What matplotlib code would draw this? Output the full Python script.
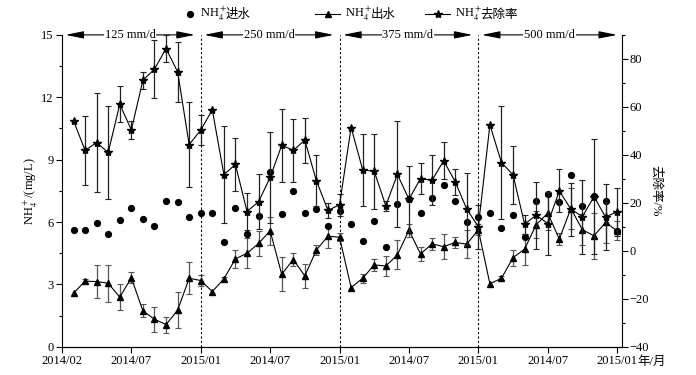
import numpy as np
import matplotlib
matplotlib.use('Agg')
import matplotlib.pyplot as plt
from matplotlib.lines import Line2D
from matplotlib.ticker import MultipleLocator

plt.rcParams['font.family'] = ['Liberation Serif', 'Noto Sans CJK SC']
plt.rcParams['mathtext.fontset'] = 'stix'
plt.rcParams['font.size'] = 9
plt.rcParams['axes.unicode_minus'] = True

# NH4+ data, 4 loading periods x 12 months
rates = ['125 mm/d', '250 mm/d', '375 mm/d', '500 mm/d']
tick_labels = ['2014/02', '2014/07', '2015/01', '2014/07', '2015/01',
               '2014/07', '2015/01', '2014/07', '2015/01']
series_names = ['进水', '出水', '去除率']

influent = [5.61, 5.64, 5.96, 5.42, 6.11, 6.70, 6.14, 5.79, 7.00, 6.97, 6.25, 6.44,
            6.44, 5.02, 6.67, 5.42, 6.31, 8.40, 6.41, 7.50, 6.46, 6.62, 5.83, 6.52,
            5.91, 5.11, 6.06, 4.78, 6.86, 7.12, 6.44, 7.15, 7.79, 7.02, 5.98, 6.23,
            6.43, 5.71, 6.35, 5.30, 7.03, 7.36, 6.96, 8.25, 6.75, 7.23, 7.03, 5.56]

effluent = [2.58, 3.16, 3.14, 3.06, 2.39, 3.32, 1.73, 1.33, 1.07, 1.76, 3.30, 3.19,
            2.66, 3.27, 4.23, 4.50, 4.97, 5.58, 3.49, 4.20, 3.41, 4.66, 5.32, 5.27,
            2.85, 3.30, 3.94, 3.89, 4.42, 5.61, 4.47, 4.95, 4.82, 5.02, 4.94, 5.63,
            3.03, 3.30, 4.29, 4.70, 5.87, 6.43, 5.18, 6.65, 5.63, 5.34, 5.98, 5.58]
effluent_err = [0, 0.1, 0.8, 0.9, 0.64, 0.27, 0.31, 0.6, 0.38, 0.86, 0.78, 0.26,
                0, 0.1, 0.43, 0.73, 0.59, 0.67, 0.82, 0.30, 0.56, 0.23, 0.56, 0.2,
                0, 0.22, 0.27, 0.48, 0.70, 0.31, 0.32, 0.30, 0.6, 0.25, 0.67, 0.26,
                0, 0.1, 0.38, 0.75, 0.65, 0.8, 0.28, 0.98, 0.75, 1.1, 1.0, 0.45]

removal = [54.2, 41.9, 45.1, 41.0, 61.1, 50.4, 71.1, 75.7, 84.3, 74.6, 44.3, 50.3,
           58.8, 31.8, 36.0, 16.4, 20.5, 30.6, 44.0, 41.9, 46.1, 29.2, 16.9, 19.2,
           51.4, 33.8, 33.1, 18.8, 31.9, 21.5, 30.1, 29.4, 37.6, 28.8, 17.4, 10.1,
           52.5, 36.8, 31.7, 11.1, 14.9, 11.4, 25.0, 17.4, 14.3, 22.6, 14.1, 16.3]
removal_err = [0, 14.4, 20.7, 19.5, 7.5, 3.8, 3.5, 12.2, 5.6, 12.4, 17.6, 6.2,
               0, 20.2, 10.9, 7.8, 11.4, 18.9, 15.1, 13.1, 9.4, 10.6, 3.0, 4.7,
               0, 14.9, 15.8, 2.1, 22.1, 13.8, 6.5, 10.4, 7.8, 5.4, 15.0, 9.2,
               0, 23.5, 12.0, 4.0, 14.0, 13.0, 9.0, 11.0, 15.4, 24.0, 13.8, 10.0]

x = np.arange(1, len(influent) + 1)
eff = np.array(effluent)
eff_e = np.array(effluent_err)
rem = np.array(removal)
rem_e = np.array(removal_err)

W, H = 696, 375
fig = plt.figure(figsize=(W / 100, H / 100), dpi=100)
ax = fig.add_axes([0.089, 0.075, 0.804, 0.832])
ax2 = ax.twinx()

# error bars first, markers on top
m = eff_e > 0
ax.errorbar(x[m], eff[m], yerr=eff_e[m], fmt='none', ecolor='#555555',
            elinewidth=0.9, capsize=2, capthick=0.8)
m = rem_e > 0
ax2.errorbar(x[m], rem[m], yerr=rem_e[m], fmt='none', ecolor='#222222',
             elinewidth=0.9, capsize=2, capthick=0.8)

ax.plot(x, influent, 'o', color='k', ms=4.2, ls='none')
ax.plot(x, effluent, '-^', color='k', ms=4.8, lw=0.8)
ax2.plot(x, removal, '-*', color='k', ms=6, lw=0.8)

for xv in [12, 24, 36]:
    ax.axvline(xv, color='k', lw=0.8, ls=(0, (2, 2)))

ax.set_xlim(0, 48.38)
ax.set_ylim(0, 15)
ax2.set_ylim(-40, 90)
ax.set_xticks(np.arange(0, 49, 6))
ax.set_xticklabels(tick_labels)
ax.yaxis.set_major_locator(MultipleLocator(3))
ax.yaxis.set_minor_locator(MultipleLocator(1.5))
ax2.yaxis.set_major_locator(MultipleLocator(20))
ax2.yaxis.set_minor_locator(MultipleLocator(10))

for a in (ax, ax2):
    a.spines['top'].set_visible(False)
    a.tick_params(which='major', direction='out', length=4, width=0.8, pad=2)
    a.tick_params(which='minor', direction='out', length=2.5, width=0.8)
ax.spines['right'].set_visible(False)
ax2.spines['left'].set_visible(False)

ax.set_ylabel('NH$_4^+$/(mg/L)', labelpad=1)
ax2.set_ylabel('去除率/%', rotation=270, labelpad=9)
fig.text(0.916, 0.036, '年/月', ha='left', va='center')

# loading-rate arrows along the top
for k, lab in enumerate(rates):
    x0 = 12 * k + 0.3
    x1 = 12 * k + 11.5 if k < 3 else 48
    ax.annotate('', xy=(x0, 15), xytext=(x1, 15),
                arrowprops=dict(arrowstyle='<|-|>,head_length=1.1,head_width=0.22',
                                color='k', lw=0.8, shrinkA=0, shrinkB=0,
                                mutation_scale=10))
    ax.text((x0 + x1) / 2, 15, lab, ha='center', va='center',
            bbox=dict(facecolor='white', edgecolor='none', pad=0.5))

# legend drawn by hand (mathtext can't fall back to CJK glyphs)
ly = 1 - 17.5 / H
entries = [(190, None, 'o', 4.2), (315, 340, '^', 4.8), (425, 450, '*', 6)]
fig.canvas.draw()
for (hx0, hx1, mk, ms), name in zip(entries, series_names):
    if hx1 is None:
        fig.add_artist(Line2D([hx0 / W], [ly + 3.5 / H], marker=mk, ms=ms, color='k',
                              ls='none', transform=fig.transFigure))
        tx = hx0 + 10
    else:
        fig.add_artist(Line2D([hx0 / W, hx1 / W], [ly + 3.5 / H] * 2, marker=None,
                              color='k', lw=0.8, transform=fig.transFigure))
        fig.add_artist(Line2D([(hx0 + hx1) / 2 / W], [ly + 3.5 / H], marker=mk, ms=ms,
                              color='k', ls='none', transform=fig.transFigure))
        tx = hx1 + 5
    t = fig.text(tx / W, ly, 'NH$_4^+$', ha='left', va='baseline')
    bb = t.get_window_extent(renderer=fig.canvas.get_renderer())
    fig.text((bb.x1 - 1.5) / W, ly, name, ha='left', va='baseline')

fig.savefig('out.png', dpi=100)
